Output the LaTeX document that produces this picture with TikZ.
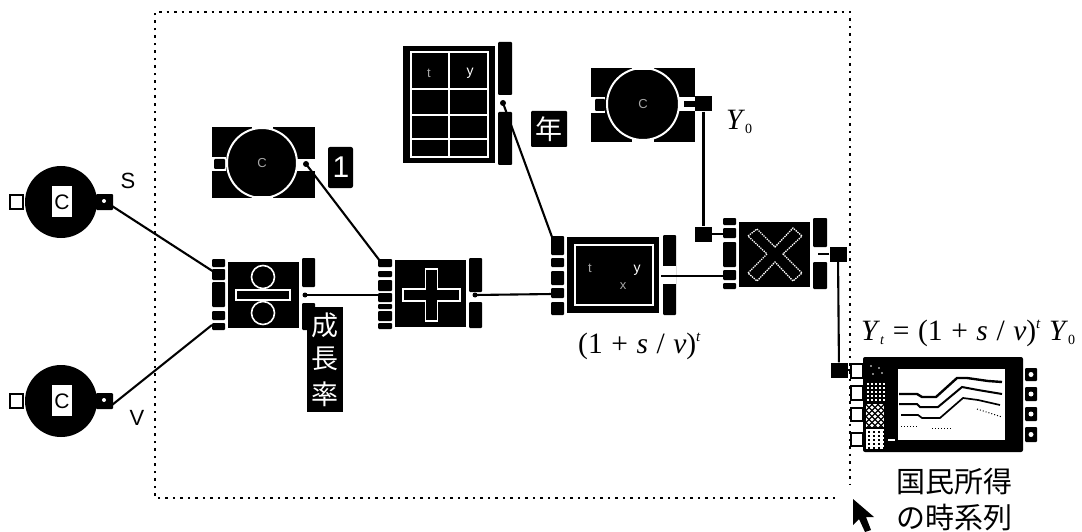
\documentclass[tikz,border=0pt]{standalone}
\usepackage{fontspec}
\setmainfont{Liberation Serif}
\newfontfamily\cjk{Noto Sans CJK JP}
\newfontfamily\sansf{Liberation Sans}
\newcommand{\widesp}{\spaceskip=0.29em\relax}
\tikzset{
 wire/.style={draw=black,line width=2.1pt},
 wht/.style={draw=white,line width=1.6pt,fill=black},
 ring/.style={draw=white,line width=2pt,fill=black},
 frame/.style={draw=black,line width=2pt,dash pattern=on 2.5pt off 5pt},
 mlabel/.style={font={\fontsize{29.5}{30}\selectfont\widesp},inner sep=0pt,anchor=base west},
 jlabel/.style={font=\cjk\fontsize{29}{29}\selectfont,inner sep=0pt},
 wlabel/.style={font=\cjk\fontsize{27}{27}\selectfont,text=white,inner sep=0pt},
 faint/.style={text=gray!70,font=\sansf\fontsize{13}{13}\selectfont,inner sep=0pt},
 bright/.style={text=white,font=\sansf\fontsize{14}{14}\selectfont,inner sep=0pt},
 junction/.style={fill=black,minimum width=17pt,minimum height=15pt,inner sep=0pt,draw=none},
}
\newcommand{\bx}[4]{\fill[black,rounded corners=1pt] (#1,#2) rectangle (#3,#4);}
\newcommand{\subsc}[1]{\raisebox{-4pt}{\fontsize{14}{14}\selectfont #1}}
\newcommand{\supsc}[1]{\raisebox{12pt}{\fontsize{15}{15}\selectfont #1}}
\begin{document}
\begin{tikzpicture}[x=1pt,y=-1pt]
\useasboundingbox (0,0) rectangle (1082,532);
\fill[white] (0,0) rectangle (1082,532);
% frame
\draw[frame] (835,498) -- (155,498) -- (155,12) -- (850,12) -- (850,485);
% constants left
\foreach \n/\cy in {cs/202,cv/401}{
  \fill[black] (61,\cy) circle (36);
  \draw[black,line width=2.4pt,fill=white] (10,\cy-7) rectangle (23,\cy+7);
  \fill[white] (52,\cy-16) rectangle (72,\cy+15);
  \node[font=\sansf\fontsize{21}{21}\selectfont,inner sep=0pt] at (62,\cy) {C};
  \bx{96}{\cy-8}{113}{\cy+8}
  \fill[white] (104,\cy-1) circle (2);
  \coordinate (\n) at (112,\cy+4);
}
\node[font=\sansf\fontsize{22}{22}\selectfont,inner sep=0pt] at (128,181) {S};
\node[font=\sansf\fontsize{22}{22}\selectfont,inner sep=0pt] at (137,418) {V};
% divide block
\fill[black] (228,262) rectangle (299,328);
\foreach \a/\b in {259/267,269/280,282/307,311/320,323/330}{\bx{212}{\a}{225}{\b}}
\bx{302}{258}{315}{287}
\bx{302}{303}{315}{330}
\draw[wht] (236,290) rectangle (290,300);
\draw[wht] (263,277) circle (11.5);
\draw[wht] (263,313) circle (11.5);
\coordinate (divS) at (214,272);
\coordinate (divV) at (212,325);
\coordinate (divL) at (305,295);
\fill[black] (305,295) circle (2.5);
% growth rate label
\fill[black] (307,307) rectangle (343,412);
\node[wlabel] at (325,325) {成};
\node[wlabel] at (325,359) {長};
\node[wlabel] at (325,394) {率};
% big constant (1)
\fill[black] (212,127) rectangle (315,198);
\draw[ring] (262,163) circle (35);
\fill[white] (252,125) rectangle (273,129);
\fill[white] (252,196) rectangle (273,200);
\fill[white] (297,159) rectangle (316,171);
\fill[white] (226,157) rectangle (211,171);
\bx{214}{159}{225}{169}
\node[faint] at (262,163) {C};
\fill[black] (306,164) circle (3);
\coordinate (c1) at (306,164);
\fill[black,rounded corners=2pt] (328,147) rectangle (353,188);
\node[font=\sansf\fontsize{30}{30}\selectfont,text=white,inner sep=0pt] at (341,167) {1};
% plus block
\fill[black] (395,260) rectangle (466,327);
\foreach \a/\b in {259/267,271/277,280/291,293/302,304/309,311/321,323/329}{\bx{378}{\a}{392}{\b}}
\bx{469}{258}{482}{292}
\bx{469}{302}{482}{328}
\draw[wht] (425.5,269) -- (437.5,269) -- (437.5,289) -- (460,289) -- (460,301) -- (437.5,301) -- (437.5,321) -- (425.5,321) -- (425.5,301) -- (403,301) -- (403,289) -- (425.5,289) -- cycle;
\fill[black] (475,295) circle (2.5);
\coordinate (plusT) at (380,261);
\coordinate (plusM) at (380,295);
\coordinate (plusO) at (475,295);
% table block
\fill[black] (403,46) rectangle (495,163);
\draw[white,line width=1.6pt] (411,52) rectangle (488,157);
\draw[white,line width=1.6pt] (449,52) -- (449,157) (411,89) -- (488,89) (411,115) -- (488,115) (411,139) -- (488,139);
\node[bright] at (470,73) {y};
\node[faint] at (429,73) {t};
\bx{498}{42}{512}{95}
\bx{498}{112}{512}{165}
\fill[black] (503,103) circle (3);
\coordinate (tab) at (503,103);
\fill[black,rounded corners=1pt] (531,111) rectangle (567,147);
\node[wlabel] at (549,129) {年};
% Y0 constant
\fill[black] (591,68) rectangle (695,142);
\draw[ring] (643,104) circle (36);
\fill[white] (632,66) rectangle (654,70);
\fill[white] (632,139) rectangle (654,143);
\fill[white] (605,97) rectangle (590,113);
\bx{595}{99}{605}{111}
\fill[white] (678,97) rectangle (695,111);
\fill[black] (684,101) rectangle (696,107);
\node[faint] at (643,104) {C};
\node[junction] (y0o) at (703.5,104) {};
\node[junction] (y0i) at (703.5,234) {};
\draw[wire] (y0o) -- (y0i);
\node[mlabel] at (726,130) {\textit{Y}\subsc{0}};
% power block
\fill[black] (567,237) rectangle (659,313);
\draw[white,line width=1.6pt] (575,245) rectangle (653,305);
\foreach \a/\b in {236/255,258/267,271/285,288/298,302/315}{\bx{551}{\a}{564}{\b}}
\bx{663}{235}{676}{315}
\fill[white] (661,266) rectangle (676,284);
\fill[black] (661,274.5) rectangle (676,277);
\node[bright] at (637,270) {y};
\node[faint] at (590,268) {t};
\node[faint] at (623,286) {x};
\coordinate (powT) at (552,237);
\coordinate (powM) at (553,294);
\coordinate (powO) at (676,276);
\node[mlabel] at (578,353) {(1 + \textit{s} / \textit{v})\supsc{\textit{t}}};
% multiply block
\fill[black] (739,222) rectangle (810,287);
\foreach \a/\b in {218/225,228/238,242/267,270/280,283/289}{\bx{723}{\a}{736}{\b}}
\bx{813}{218}{827}{247}
\bx{813}{262}{827}{289}
\draw[white,line width=1.3pt,densely dotted] (748,236) -- (757,229) -- (775,247) -- (793,228) -- (802,236) -- (783,254) -- (802,273) -- (793,281) -- (775,262) -- (757,281) -- (748,273) -- (767,254) -- cycle;
\coordinate (mulA) at (726,234);
\coordinate (mulB) at (726,276);
\coordinate (mulO) at (818,254);
\node[junction] (mo) at (838,254) {};
\node[junction] (ci) at (839,370) {};
% chart
\fill[black,rounded corners=2pt] (863,357) rectangle (1023,452);
\fill[white] (898,369) rectangle (1005,440);
\foreach \a/\b in {364/378,386/400,408/421,433/446}{\draw[black,line width=1.8pt,fill=white] (851,\a) rectangle (863,\b);}
\foreach \a/\b in {368/381,387/401,407/421,427/442}{
  \bx{1025}{\a}{1037}{\b}
  \fill[white] (1031,\a/2+\b/2) circle (2.5);
}
\foreach \yy/\xx in {365/870,367/878,373/872,372/881}{\fill[gray] (\xx,\yy) rectangle +(2,2);}
\foreach \yy in {383,387,...,401}{\foreach \xx in {867,871,...,883}{\fill[white] (\xx,\yy) rectangle +(2,2);}}
\fill[white] (866,404) rectangle (884,427);
\begin{scope}
\clip (866,404) rectangle (884,427);
\foreach \d in {-20,-14,...,20}{\draw[black,line width=1.1pt] (866,415.5+\d-9) -- (884,415.5+\d+9) (884,415.5+\d-9) -- (866,415.5+\d+9);}
\end{scope}
\fill[white] (866,429) rectangle (884,449);
\foreach \yy in {431,435,...,447}{\foreach \xx in {868,873,...,883}{\fill[black] (\xx,\yy) rectangle +(2,2);}}
\fill[white] (888,439) rectangle (895,441);
\draw[black,line width=2.4pt] (899,394) -- (917,394) -- (922,397) -- (936,397) -- (957,378) -- (967,378) -- (988,381) -- (1002,382);
\draw[black,line width=2pt] (899,404) -- (917,404) -- (920,407) -- (938,407) -- (962,387) -- (978,390) -- (1002,394);
\draw[black,line width=1.7pt] (901,415) -- (918,415) -- (922,418) -- (940,418) -- (963,398) -- (978,400) -- (1000,405);
\draw[black,line width=1pt,dotted] (901,426) -- (918,426);
\draw[black,line width=1pt,dotted] (932,428) -- (953,428);
\draw[black,line width=1pt,dotted] (977,409) -- (1002,417);
\node[mlabel] at (861,340) {\textit{Y}\subsc{\textit{t}} = (1 + \textit{s} / \textit{v})\supsc{\textit{t}} \textit{Y}\subsc{0}};
\coordinate (chartI) at (852,370);
% labels
\node[jlabel] at (954,482) {国民所得};
\node[jlabel] at (954,518) {の時系列};
% cursor
\fill[black] (853,499) -- (853,525) -- (859,519) -- (865,532) -- (871,530) -- (866,517) -- (874,517) -- cycle;
% wires
\draw[wire] (cs) -- (divS);
\draw[wire] (cv) -- (divV);
\draw[wire] (c1) -- (plusT);
\draw[wire] (divL) -- (plusM);
\draw[wire] (plusO) -- (powM);
\draw[wire] (tab) -- (powT);
\draw[wire] (powO) -- (mulB);
\draw[wire] (y0i) -- (mulA);
\draw[wire] (mo) -- (mulO);
\draw[wire] (mo) -- (ci);
\draw[wire] (ci) -- (chartI);
\end{tikzpicture}
\end{document}
